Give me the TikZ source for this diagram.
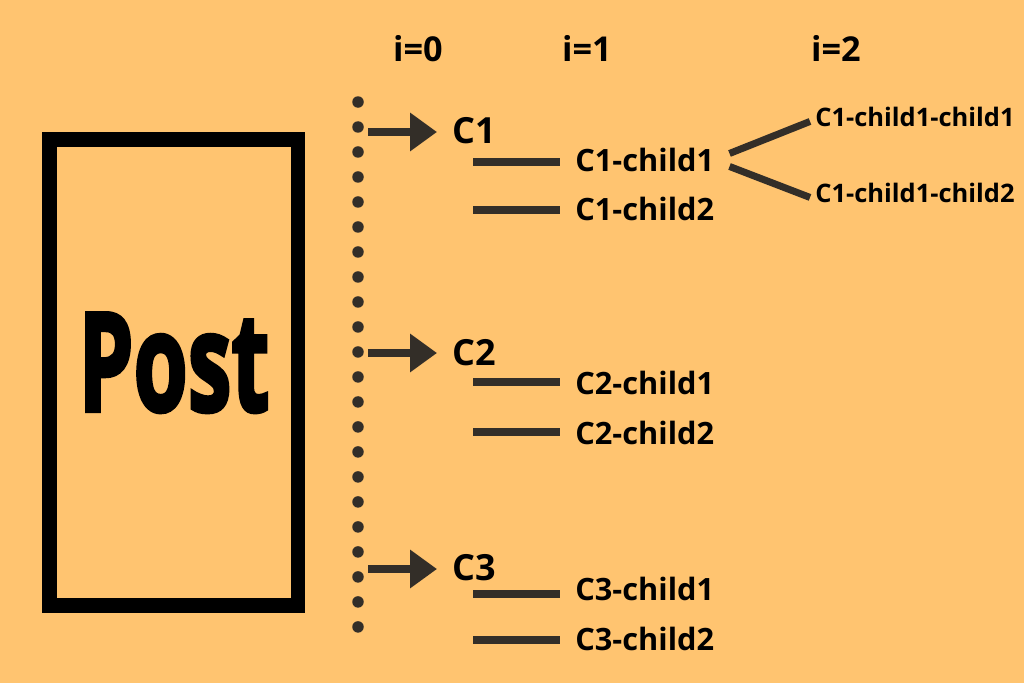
\documentclass[tikz,border=0pt]{standalone}
\usepackage{fontspec}
\setmainfont{Open Sans}
\newfontfamily\postfont{Open Sans}[BoldFeatures={FakeBold=3}]
\usepackage{xcolor}
\usetikzlibrary{arrows.meta,positioning}

\definecolor{bgorange}{RGB}{255,196,112}
\definecolor{inkdark}{RGB}{51,46,40}

\begin{document}
\begin{tikzpicture}[
    x=0.02cm, y=-0.02cm,
    lvlhead/.style={anchor=base, inner sep=0pt, font=\fontsize{19.5pt}{22pt}\selectfont\bfseries},
    rootlbl/.style={anchor=base west, inner xsep=0.3cm, inner ysep=0pt, font=\fontsize{20.5pt}{23pt}\selectfont\bfseries},
    childlbl/.style={anchor=base west, inner xsep=0.3cm, inner ysep=0pt, font=\fontsize{17.5pt}{20pt}\selectfont\bfseries},
    grandlbl/.style={anchor=base west, inner xsep=0.1cm, inner ysep=0pt, font=\fontsize{14.5pt}{17pt}\selectfont\bfseries},
    link/.style={draw=inkdark, line width=4pt},
    pointer/.style={draw=inkdark, line width=4pt, -{Triangle[length=0.54cm, width=0.74cm]}}
]

% background
\fill[bgorange] (0,0) rectangle (1024,683);
\useasboundingbox (0,0) rectangle (1024,683);

% Post box
\node[draw=black, line width=8.5pt, minimum width=4.97cm, minimum height=9.32cm] (postbox) at (173.75,372.5) {};
\node[anchor=base, inner sep=0pt, xscale=0.64, font=\fontsize{78pt}{80pt}\postfont\bfseries] (posttext) at (174,411) {Post};

% level headings
\node[lvlhead] (lvl0) at (418,61) {i=0};
\node[lvlhead] (lvl1) at (587,61) {i=1};
\node[lvlhead] (lvl2) at (836,61) {i=2};

% dotted spine
\coordinate (spinetop) at (358,102);
\coordinate (spinebot) at (358,627);
\draw[inkdark, line width=0.23cm, line cap=round, dash pattern=on 0pt off 0.5cm] (spinetop) -- (spinebot);

% top level comments
\node[rootlbl] (cmt1) at (437,143) {C1};
\node[rootlbl] (cmt2) at (437,365) {C2};
\node[rootlbl] (cmt3) at (437,580) {C3};

\coordinate (tail1) at (368,132);
\coordinate (tail2) at (368,353);
\coordinate (tail3) at (368,569);

\draw[pointer] (tail1) -- (tail1 -| cmt1.west);
\draw[pointer] (tail2) -- (tail2 -| cmt2.west);
\draw[pointer] (tail3) -- (tail3 -| cmt3.west);

% children
\node[childlbl] (c1a) at (560,171) {C1-child1};
\node[childlbl] (c1b) at (560,220) {C1-child2};
\node[childlbl] (c2a) at (560,394) {C2-child1};
\node[childlbl] (c2b) at (560,444) {C2-child2};
\node[childlbl] (c3a) at (560,600) {C3-child1};
\node[childlbl] (c3b) at (560,650) {C3-child2};

\coordinate (s1a) at (473,162);
\coordinate (s1b) at (473,210);
\coordinate (s2a) at (473,382);
\coordinate (s2b) at (473,432);
\coordinate (s3a) at (473,594);
\coordinate (s3b) at (473,640);

\draw[link] (s1a) -- (s1a -| c1a.west);
\draw[link] (s1b) -- (s1b -| c1b.west);
\draw[link] (s2a) -- (s2a -| c2a.west);
\draw[link] (s2b) -- (s2b -| c2b.west);
\draw[link] (s3a) -- (s3a -| c3a.west);
\draw[link] (s3b) -- (s3b -| c3b.west);

% grandchildren
\node[grandlbl] (g1) at (810,126) {C1-child1-child1};
\node[grandlbl] (g2) at (810,202) {C1-child1-child2};

\draw[link] ([yshift=0.12cm]c1a.east) -- ([yshift=-0.1cm]g1.west);
\draw[link] ([yshift=-0.14cm]c1a.east) -- ([yshift=-0.1cm]g2.west);

\end{tikzpicture}
\end{document}
